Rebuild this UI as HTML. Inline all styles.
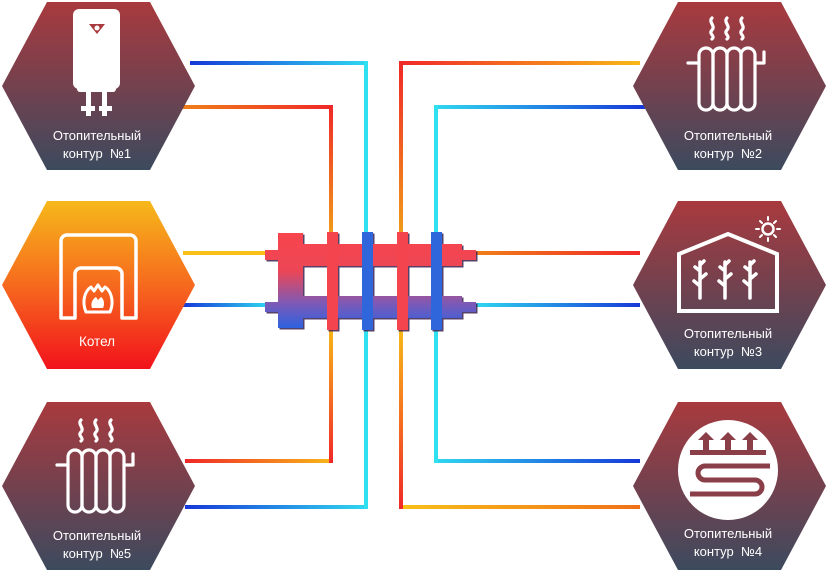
<!DOCTYPE html>
<html><head><meta charset="utf-8"><style>
html,body{margin:0;padding:0;background:#fff;}
svg{display:block}
text{font-family:"Liberation Sans",sans-serif;fill:#fff;font-size:13px;text-anchor:middle}
</style></head><body>
<svg width="830" height="572" viewBox="0 0 830 572" xmlns="http://www.w3.org/2000/svg">
<defs>
<linearGradient id="hx" x1="0" y1="0" x2="0" y2="1"><stop offset="0" stop-color="#a83a3e"/><stop offset="0.55" stop-color="#6e4250"/><stop offset="1" stop-color="#3c4a5e"/></linearGradient>
<linearGradient id="bo" x1="0" y1="0" x2="0" y2="1"><stop offset="0" stop-color="#f6b81a"/><stop offset="0.5" stop-color="#f66a1e"/><stop offset="1" stop-color="#f2121c"/></linearGradient>
<linearGradient id="mf" gradientUnits="userSpaceOnUse" x1="0" y1="233" x2="0" y2="328"><stop offset="0" stop-color="#f8444c"/><stop offset="0.4" stop-color="#ec4656"/><stop offset="0.75" stop-color="#7a5ab8"/><stop offset="1" stop-color="#2d62e0"/></linearGradient>
<linearGradient id="bc" x1="0" y1="0" x2="1" y2="0"><stop offset="0" stop-color="#1638d8"/><stop offset="1" stop-color="#30d8f0"/></linearGradient>
<linearGradient id="cb" x1="0" y1="0" x2="1" y2="0"><stop offset="0" stop-color="#30d8f0"/><stop offset="1" stop-color="#1638d8"/></linearGradient>
<linearGradient id="or" x1="0" y1="0" x2="1" y2="0"><stop offset="0" stop-color="#f08018"/><stop offset="1" stop-color="#f02828"/></linearGradient>
<linearGradient id="ro" x1="0" y1="0" x2="1" y2="0"><stop offset="0" stop-color="#f02828"/><stop offset="1" stop-color="#f8b818"/></linearGradient>
<linearGradient id="yo" x1="0" y1="0" x2="1" y2="0"><stop offset="0" stop-color="#f8c018"/><stop offset="1" stop-color="#f07018"/></linearGradient>
<linearGradient id="vd" x1="0" y1="0" x2="0" y2="1"><stop offset="0" stop-color="#f02828"/><stop offset="1" stop-color="#f0a018"/></linearGradient>
<linearGradient id="vu" x1="0" y1="0" x2="0" y2="1"><stop offset="0" stop-color="#f8c018"/><stop offset="1" stop-color="#f02828"/></linearGradient>
<g id="rad" fill="none" stroke="#fff" stroke-width="3.2" stroke-linecap="round" stroke-linejoin="round">
<rect x="67" y="46" width="14" height="62" rx="7"/><rect x="81" y="46" width="14" height="62" rx="7"/><rect x="95" y="46" width="14" height="62" rx="7"/><rect x="109" y="46" width="14" height="62" rx="7"/>
<path d="M56 61H67M123 61H132V50"/>
<path d="M80 16c-4 4 4 8 0 12s4 6 0 9M95 16c-4 4 4 8 0 12s4 6 0 9M110 16c-4 4 4 8 0 12s4 6 0 9"/>
</g>
<polygon id="hex" points="47,0 150,0 195,84 150,168 47,168 2,84"/>
</defs>

<!-- pipes -->
<rect x="190" y="61" width="178" height="4" fill="url(#bc)"/>
<rect x="364" y="61" width="4" height="180" fill="#2ee0f0"/>
<rect x="180" y="105" width="153" height="4" fill="url(#or)"/>
<rect x="329" y="105" width="4" height="135" fill="url(#vd)"/>
<rect x="183" y="251" width="87" height="4" fill="#f8c018"/>
<rect x="183" y="303" width="87" height="4" fill="url(#bc)"/>
<rect x="185" y="459" width="148" height="4" fill="url(#ro)"/>
<rect x="329" y="320" width="4" height="143" fill="url(#vu)"/>
<rect x="185" y="505" width="183" height="4" fill="url(#bc)"/>
<rect x="364" y="320" width="4" height="189" fill="#2ee0f0"/>
<rect x="399" y="61" width="241" height="4" fill="url(#ro)"/>
<rect x="399" y="61" width="4" height="180" fill="url(#vd)"/>
<rect x="434" y="105" width="211" height="4" fill="url(#cb)"/>
<rect x="434" y="105" width="4" height="135" fill="#2ee0f0"/>
<rect x="474" y="251" width="166" height="4" fill="url(#or)"/>
<rect x="474" y="303" width="166" height="4" fill="url(#cb)"/>
<rect x="434" y="459" width="206" height="4" fill="url(#cb)"/>
<rect x="434" y="320" width="4" height="143" fill="#2ee0f0"/>
<rect x="399" y="505" width="241" height="4" fill="url(#yo)"/>
<rect x="399" y="320" width="4" height="189" fill="url(#vu)"/>

<!-- manifold -->
<g transform="translate(1.5,1.5)" fill="#3a2050" opacity="0.85">
<rect x="278" y="233" width="25" height="95"/><rect x="280" y="244" width="182" height="22"/><rect x="265" y="250" width="211" height="10"/>
<rect x="280" y="296" width="182" height="22"/><rect x="265" y="302" width="211" height="10"/>
<rect x="327" y="232" width="11" height="98"/><rect x="362" y="232" width="11" height="98"/><rect x="397" y="232" width="11" height="98"/><rect x="431" y="232" width="11" height="98"/>
</g>
<g fill="url(#mf)">
<rect x="278" y="233" width="25" height="95"/>
<rect x="280" y="244" width="182" height="22"/><rect x="265" y="250" width="15" height="10"/><rect x="462" y="250" width="14" height="10"/>
<rect x="280" y="296" width="182" height="22"/><rect x="265" y="302" width="15" height="10"/><rect x="462" y="302" width="14" height="10"/>
</g>
<rect x="327" y="232" width="11" height="98" fill="#f4454e"/>
<rect x="362" y="232" width="11" height="98" fill="#2f66dc"/>
<rect x="397" y="232" width="11" height="98" fill="#f4454e"/>
<rect x="431" y="232" width="11" height="98" fill="#2f66dc"/>

<!-- hexes -->
<use href="#hex" x="0" y="2" fill="url(#hx)"/>
<use href="#hex" x="0" y="201" fill="url(#bo)"/>
<use href="#hex" x="0" y="402" fill="url(#hx)"/>
<use href="#hex" x="631" y="2" fill="url(#hx)"/>
<use href="#hex" x="631" y="201" fill="url(#hx)"/>
<use href="#hex" x="631" y="402" fill="url(#hx)"/>

<!-- water heater -->
<g fill="#fff">
<rect x="73" y="9" width="47" height="80" rx="6"/>
<rect x="77" y="86" width="39" height="6" rx="3"/>
<rect x="86" y="90" width="5" height="26"/><rect x="102" y="90" width="5" height="26"/>
<rect x="81" y="106" width="14" height="5"/><rect x="99" y="106" width="13" height="5"/>
</g>
<path d="M89 24h16l-8 10z" fill="#a83a3e"/><circle cx="97" cy="28" r="2.5" fill="#fff"/>
<text x="97" y="140">Отопительный</text><text x="97" y="158">контур&#160;&#160;№1</text>

<!-- boiler -->
<g fill="none" stroke="#fff" stroke-width="3.5" stroke-linejoin="round">
<path d="M61 318V241a6 6 0 0 1 6-6h63a6 6 0 0 1 6 6v77h-14V274a6 6 0 0 0-6-6H81a6 6 0 0 0-6 6v44z"/>
<path d="M86 312c-5-12 0-22 5-25l3 4 4-6 4 6 3-4c5 3 10 13 5 25z" stroke-width="3"/>
</g>
<path d="M92 308c-2-6 2-10 4-11l2 3 3-3c3 2 4 7 2 11z" fill="#fff"/>
<text x="97" y="346" style="font-size:13.5px">Котел</text>

<!-- radiators -->
<use href="#rad" x="632" y="2"/>
<text x="728" y="140">Отопительный</text><text x="728" y="158">контур&#160;&#160;№2</text>
<use href="#rad" x="1" y="404"/>
<text x="97" y="540">Отопительный</text><text x="97" y="558">контур&#160;&#160;№5</text>

<!-- greenhouse -->
<g fill="none" stroke="#fff" stroke-width="4" stroke-linejoin="miter">
<path d="M679 311V254l49-20 49 20v57z"/>
</g>
<g fill="none" stroke="#fff" stroke-width="3.5" stroke-linecap="round">
<path d="M700 298V262M700 286l-6-5M700 279l6-5M700 271l-5-4M700 265l4-4"/>
<path d="M725 298V262M725 286l-6-5M725 279l6-5M725 271l-5-4M725 265l4-4"/>
<path d="M750 298V262M750 286l-6-5M750 279l6-5M750 271l-5-4M750 265l4-4"/>
<circle cx="768" cy="229" r="5.5" stroke-width="2.5"/>
<path d="M768 217v3M768 238v3M756 229h3M777 229h3M760 221l2 2M774 235l2 2M776 221l-2 2M762 235l-2 2" stroke-width="2"/>
</g>
<text x="728" y="338">Отопительный</text><text x="728" y="356">контур&#160;&#160;№3</text>

<!-- floor heating -->
<circle cx="728" cy="470" r="50" fill="#fff"/>
<rect x="690" y="450" width="76" height="5" fill="#8a3e48"/>
<g fill="#8a3e48">
<path d="M706 432l-8 8h5v10h6v-10h5z"/><path d="M728 432l-8 8h5v10h6v-10h5z"/><path d="M750 432l-8 8h5v10h6v-10h5z"/>
</g>
<path d="M770 466H705a7 7 0 0 0 0 14h50a7 7 0 0 1 0 14H690" fill="none" stroke="#8a3e48" stroke-width="5"/>
<text x="728" y="538">Отопительный</text><text x="728" y="556">контур&#160;&#160;№4</text>
</svg>
</body></html>
